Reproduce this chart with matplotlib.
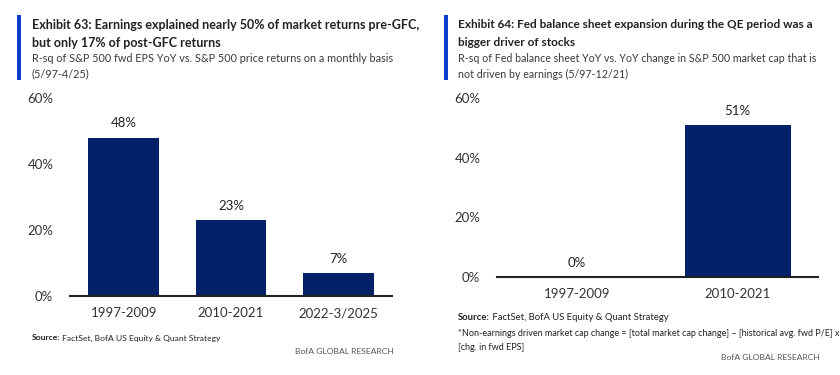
import matplotlib.pyplot as plt

plt.rcParams['font.family'] = ['Lato', 'DejaVu Sans']

# Exhibit 63
left_periods = ['1997-2009', '2010-2021', '2022-3/2025']
left_rsq = [48, 23, 7]

# Exhibit 64
right_periods = ['1997-2009', '2010-2021']
right_rsq = [0, 51]

yticks = [0, 20, 40, 60]

NAVY = '#012169'
ACCENT = '#0b3fc9'
TEXT = '#222222'
GREY = '#555555'

W, H = 840, 375
fig = plt.figure(figsize=(W / 100, H / 100), dpi=100)


def px_axes(x0, x1, y_top, y_bot):
    return fig.add_axes([x0 / W, 1 - y_bot / H, (x1 - x0) / W, (y_bot - y_top) / H])


def line(x, y, s, size, **kw):
    kw.setdefault('color', TEXT)
    return fig.text(x / W, 1 - y / H, s, fontsize=size, va='center', **kw)


def header(x_bar, x_text, titles, subs, tsize, ssize):
    fig.add_artist(plt.Rectangle((x_bar / W, 1 - 80 / H), 4 / W, 65 / H,
                                 transform=fig.transFigure, color=ACCENT, lw=0))
    for y, s in zip([25, 43], titles):
        line(x_text, y, s, tsize, fontweight='bold')
    for y, s in zip([59, 74], subs):
        line(x_text, y, s, ssize, color='#3a3a3a')


def source(x, y, size):
    t = line(x, y, 'Source:', size, fontweight='bold')
    plt.annotate(' FactSet, BofA US Equity & Quant Strategy', xy=(1, 0), xycoords=t,
                 fontsize=size, color=TEXT, va='bottom', annotation_clip=False)


def bar_panel(ax, cats, vals):
    x = range(len(cats))
    ax.bar(x, vals, width=0.66, color=NAVY)
    for xi, v in zip(x, vals):
        ax.annotate(f'{v}%', (xi, v), xytext=(0, 6), textcoords='offset points',
                    ha='center', va='bottom', fontsize=9.5, color=TEXT)
    ax.set_xlim(-0.5, len(cats) - 0.5)
    ax.set_ylim(0, 60)
    ax.set_yticks(yticks)
    ax.set_yticklabels([f'{t}%' for t in yticks])
    ax.set_xticks(list(x))
    ax.set_xticklabels(cats)
    ax.tick_params(axis='both', length=0, labelsize=9.5, labelcolor='#333333')
    ax.tick_params(axis='y', pad=12)
    ax.tick_params(axis='x', pad=8)
    for s in ['top', 'right', 'left']:
        ax.spines[s].set_visible(False)
    ax.spines['bottom'].set_color('#222222')
    ax.spines['bottom'].set_linewidth(1.5)


# left panel
header(17, 32,
       ['Exhibit 63: Earnings explained nearly 50% of market returns pre-GFC,',
        'but only 17% of post-GFC returns'],
       ['R-sq of S&P 500 fwd EPS YoY vs. S&P 500 price returns on a monthly basis',
        '(5/97-4/25)'],
       9.0, 7.8)
axl = px_axes(70, 392, 98, 296)
bar_panel(axl, left_periods, left_rsq)
source(32, 338, 6.1)
line(394, 352, 'BofA GLOBAL RESEARCH', 6.1, color=GREY, ha='right')

# right panel
header(444, 458,
       ['Exhibit 64: Fed balance sheet expansion during the QE period was a',
        'bigger driver of stocks'],
       ['R-sq of Fed balance sheet YoY vs. YoY change in S&P 500 market cap that is',
        'not driven by earnings (5/97-12/21)'],
       8.5, 7.7)
axr = px_axes(497, 818, 98, 277)
bar_panel(axr, right_periods, right_rsq)
source(458, 318, 6.8)
line(458, 333, '*Non-earnings driven market cap change = [total market cap change] \u2013 '
     '[historical avg. fwd P/E] x', 6.5)
line(458, 347, '[chg. in fwd EPS]', 6.5)
line(820, 358, 'BofA GLOBAL RESEARCH', 6.1, color=GREY, ha='right')

fig.savefig('out.png', dpi=100)
